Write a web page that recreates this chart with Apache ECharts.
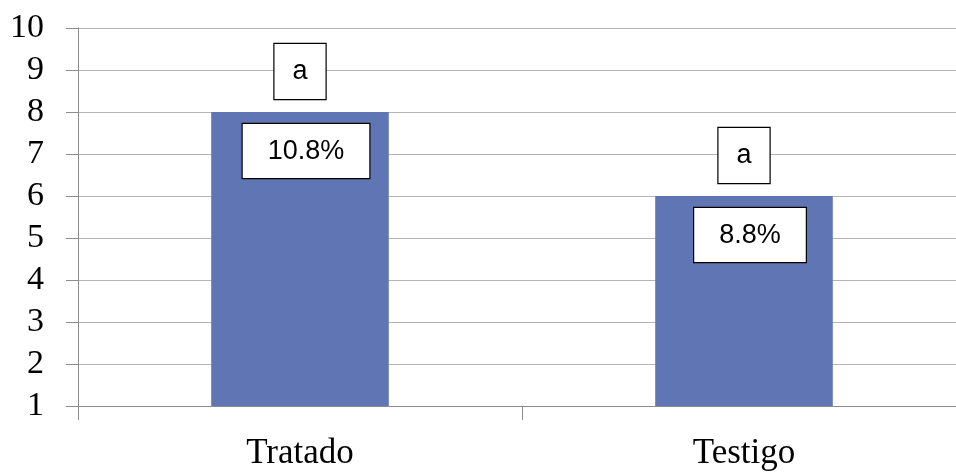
<!DOCTYPE html>
<html><head><meta charset="utf-8">
<script src="https://cdn.jsdelivr.net/npm/echarts@6/dist/echarts.min.js"></script>
<style>html,body{margin:0;padding:0;background:#fff;overflow:hidden}#c{width:966px;height:472px}</style>
</head><body><div id="c"></div>
<script>
const categories = ['Tratado', 'Testigo'];
const values = [8, 6];
const letters = ['a', 'a'];
const percents = ['10.8%', '8.8%'];
const yTicks = [1, 10, 1]; // min, max, interval

const chart = echarts.init(document.getElementById('c'));
const boxLabel = {
  show: true,
  color: '#000',
  fontFamily: 'Liberation Sans',
  fontSize: 27,
  backgroundColor: '#fff',
  borderColor: '#000',
  borderWidth: 1.2
};
chart.setOption({
  animation: false,
  grid: { left: 78, right: 0, top: 28, bottom: 66, containLabel: false },
  xAxis: {
    type: 'category',
    data: categories,
    axisLine: { lineStyle: { color: '#8c8c8c', width: 1 } },
    axisTick: { show: true, length: 14, lineStyle: { color: '#8c8c8c' } },
    axisLabel: { color: '#000', fontFamily: 'Liberation Serif', fontSize: 35, margin: 30 }
  },
  yAxis: {
    type: 'value',
    min: yTicks[0], max: yTicks[1], interval: yTicks[2],
    axisLine: { show: true, lineStyle: { color: '#8c8c8c', width: 1 } },
    axisTick: { show: true, length: 12, lineStyle: { color: '#8c8c8c' } },
    splitLine: { lineStyle: { color: '#b4b4b4', width: 1 } },
    axisLabel: { color: '#000', fontFamily: 'Liberation Serif', fontSize: 34, margin: 34 }
  },
  series: [
    {
      type: 'bar',
      data: values,
      barWidth: '40%',
      itemStyle: { color: '#6076b4' },
      label: Object.assign({}, boxLabel, {
        position: 'insideTop',
        distance: 12,
        offset: [6, 0],
        padding: [14, 25, 13, 25],
        formatter: p => percents[p.dataIndex]
      })
    },
    {
      type: 'bar',
      data: values,
      barWidth: '40%',
      barGap: '-100%',
      itemStyle: { color: 'rgba(0,0,0,0)' },
      label: Object.assign({}, boxLabel, {
        position: 'top',
        distance: 13,
        padding: [14, 18, 14, 18],
        formatter: p => letters[p.dataIndex]
      })
    }
  ]
});
</script></body></html>
